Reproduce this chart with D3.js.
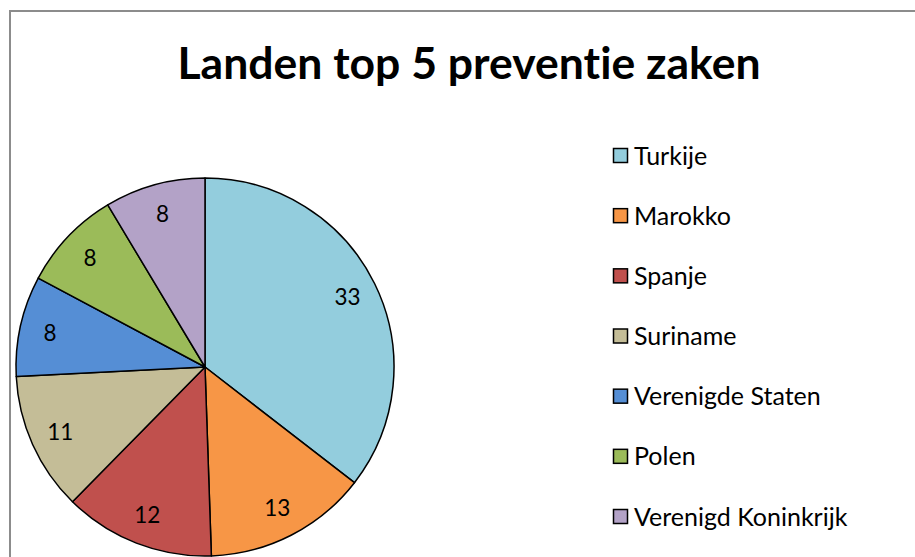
<!DOCTYPE html>
<html>
<head>
<meta charset="utf-8">
<script src="https://cdn.jsdelivr.net/npm/d3@7"></script>
<style>
  body { margin: 0; background: #fff; }
  svg { display: block; font-family: Lato, Calibri, sans-serif; font-variant-ligatures: none; }
</style>
</head>
<body>
<div id="chart"></div>
<script>
// chart data
var countries = ['Turkije', 'Marokko', 'Spanje', 'Suriname', 'Verenigde Staten', 'Polen', 'Verenigd Koninkrijk'];
var cases = [33, 13, 12, 11, 8, 8, 8];
var colors = ['#93cddd', '#f79646', '#c0504d', '#c4bd97', '#558ed5', '#9bbb59', '#b3a2c7'];

var w = 915;
var h = 557;

var svg = d3.select('#chart')
  .append('svg')
  .attr('width', w)
  .attr('height', h);

// outer frame (right and bottom run off the picture)
svg.append('rect')
  .attr('x', 10)
  .attr('y', 11)
  .attr('width', w + 20)
  .attr('height', h + 20)
  .attr('fill', 'none')
  .attr('stroke', '#8c8c8c')
  .attr('stroke-width', 2);

svg.append('text')
  .attr('x', 469)
  .attr('y', 79)
  .attr('text-anchor', 'middle')
  .attr('font-size', 44.5)
  .attr('font-weight', 'bold')
  .text('Landen top 5 preventie zaken');

var data = countries.map(function(c, i) {
  return { name: c, value: cases[i], color: colors[i] };
});

var radius = 189;
var pie = d3.pie().sort(null).value(function(d) { return d.value; });
var arc = d3.arc().innerRadius(0).outerRadius(radius);
var labelArc = d3.arc().innerRadius(radius * 0.84).outerRadius(radius * 0.84);

var g = svg.append('g').attr('transform', 'translate(205,367)');

var slices = g.selectAll('.slice')
  .data(pie(data))
  .enter()
  .append('g')
  .attr('class', 'slice');

slices.append('path')
  .attr('d', arc)
  .attr('fill', function(d) { return d.data.color; })
  .attr('stroke', '#000')
  .attr('stroke-width', 1.5)
  .attr('stroke-linejoin', 'round');

slices.append('text')
  .attr('transform', function(d) { return 'translate(' + labelArc.centroid(d) + ')'; })
  .attr('text-anchor', 'middle')
  .attr('dy', '0.36em')
  .attr('font-size', 22.5)
  .text(function(d) { return d.data.value; });

// legend
var legendY = d3.scalePoint()
  .domain(countries)
  .range([155.5, 516.5]);

var legend = svg.append('g').attr('id', 'legend');

var items = legend.selectAll('.item')
  .data(data)
  .enter()
  .append('g')
  .attr('class', 'item')
  .attr('transform', function(d) { return 'translate(613,' + legendY(d.name) + ')'; });

items.append('rect')
  .attr('x', 0.5)
  .attr('y', -7)
  .attr('width', 14)
  .attr('height', 14)
  .attr('fill', function(d) { return d.color; })
  .attr('stroke', '#000')
  .attr('stroke-width', 1.5);

items.append('text')
  .attr('x', 21)
  .attr('dy', '0.36em')
  .attr('font-size', 25)
  .text(function(d) { return d.name; });
</script>
</body>
</html>
